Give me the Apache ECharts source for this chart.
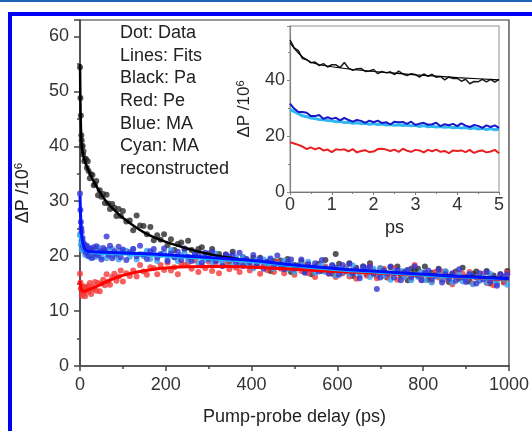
<!DOCTYPE html>
<html><head><meta charset="utf-8">
<script src="https://cdn.jsdelivr.net/npm/echarts@6/dist/echarts.min.js"></script>
<style>html,body{margin:0;padding:0;background:#fff}#c{width:532px;height:431px}</style>
</head><body><div id="c"></div>
<script>
// ---- main panel: pump-probe delay (ps) ----
const times = [0,1,2,3,4,5,6,7,8,10,12,14,16,18,20,23,26,29,32,35,38,42,46,50,54,58,62,66,70,75,80,85,90,95,100,108,116,124,132,140,148,156,164,172,180,188,196,204,212,220,228,236,244,252,260,268,276,284,292,300,308,316,324,332,340,348,356,364,372,380,388,396,404,412,420,428,436,444,452,460,468,476,484,492,500,508,516,524,532,540,548,556,564,572,580,588,596,604,612,620,628,636,644,652,660,668,676,684,692,700,708,716,724,732,740,748,756,764,772,780,788,796,804,812,820,828,836,844,852,860,868,876,884,892,900,908,916,924,932,940,948,956,964,972,980,988,996];
const paDots = [54.4,48.8,45.6,42.0,41.1,39.9,40.1,38.5,39.1,37.3,37.7,37.7,36.1,37.3,35.5,34.2,34.9,34.8,32.9,33.1,33.7,31.1,32.0,30.8,31.3,29.7,31.2,29.6,28.6,29.5,28.8,27.3,28.6,27.3,28.2,
26.3,26.5,24.7,27.4,25.6,25.5,24.0,25.3,22.9,23.8,23.0,24.0,22.0,23.1,21.1,22.2,22.5,21.2,22.8,21.1,20.2,21.3,21.6,20.0,20.5,
21.3,19.1,20.4,19.5,20.3,19.0,20.8,19.4,18.6,19.8,19.4,18.1,19.7,18.6,19.7,18.3,18.8,17.3,19.1,18.9,19.2,17.8,19.5,17.1,18.4,
17.9,19.1,17.2,18.6,16.7,18.1,18.6,17.3,19.3,17.6,16.8,20.4,18.6,17.0,17.7,18.7,16.4,17.9,17.1,18.1,16.7,18.7,17.3,16.5,17.8,
17.5,16.1,18.0,16.9,18.1,16.5,17.2,15.6,17.7,17.4,17.7,16.4,18.1,15.7,17.0,16.5,17.7,15.8,17.2,15.3,16.7,17.2,15.9,17.9,16.2,
15.4,16.8,17.2,15.6,16.3,17.3,15.0,16.5,15.7,16.7,15.3,17.3];
const peDots = [16.8,15.2,14.0,14.2,12.8,14.4,13.4,14.5,13.1,13.7,12.7,14.3,14.1,14.5,13.5,15.1,13.1,14.4,14.0,15.3,13.7,15.1,13.6,15.0,15.7,14.7,16.7,15.4,14.8,16.2,16.8,15.5,16.3,17.4,15.4,
16.9,16.4,17.4,16.3,18.4,17.2,16.6,18.0,17.8,16.7,18.4,17.5,18.8,17.4,18.0,16.7,18.6,18.4,18.8,17.7,19.2,17.1,18.3,17.8,19.0,
17.3,18.6,16.9,18.2,18.7,17.6,19.3,17.9,17.1,18.4,18.8,17.4,18.0,19.0,16.8,18.2,17.5,18.4,17.1,19.0,17.7,16.9,18.1,17.8,16.6,
18.3,17.3,18.4,16.9,17.5,16.2,18.1,17.7,18.1,16.8,18.3,16.2,17.4,16.9,18.0,16.3,17.5,15.9,17.1,17.6,16.5,18.2,16.8,16.0,17.3,
17.7,16.2,16.8,17.8,15.7,17.0,16.3,17.2,15.9,18.4,16.4,15.7,16.9,16.6,15.4,17.1,16.1,17.2,15.8,16.3,14.9,16.8,16.5,16.8,15.6,
17.1,15.0,16.2,15.7,16.8,15.1,16.4,14.7,15.9,16.4,15.2,17.0];
const maDots = [31.4,28.4,26.2,25.1,24.4,23.0,23.3,21.9,22.3,21.5,22.0,20.6,21.9,20.9,20.0,21.4,21.1,19.7,21.6,20.5,21.8,20.2,20.9,19.4,21.5,21.1,23.6,20.2,21.9,19.6,20.9,20.4,21.7,19.8,21.2,
19.3,20.7,21.3,20.0,21.9,20.3,19.5,20.9,21.3,19.7,20.4,21.4,19.1,20.5,19.8,20.8,19.3,21.4,19.9,19.1,20.5,20.1,18.8,20.6,19.5,
20.8,19.1,19.8,18.2,20.3,19.9,20.3,18.9,20.6,18.2,19.5,18.9,20.2,18.2,19.5,17.7,19.0,19.5,18.2,20.1,18.5,17.6,18.9,19.4,17.7,
18.3,19.4,17.0,18.5,17.7,18.7,17.2,19.3,17.8,16.9,18.3,17.9,16.6,18.4,17.3,18.6,16.9,17.6,16.0,18.1,17.8,18.1,16.8,14.0,16.1,
17.4,16.8,18.1,16.1,17.5,15.6,17.0,17.5,16.2,18.1,16.5,15.6,17.0,17.4,15.8,16.5,17.5,15.2,16.7,15.9,16.9,15.5,17.6,16.1,15.3,
16.7,16.4,15.0,16.9,15.8,17.1,15.4,16.1,14.6,16.7,16.3,16.7];
const maRecDots = [23.8,24.1,22.1,22.8,21.1,22.0,22.3,21.0,22.5,21.0,20.2,21.2,21.5,20.1,20.7,21.5,19.6,20.8,20.3,21.1,19.9,21.6,20.5,19.8,20.9,20.7,19.6,21.2,20.3,21.3,20.0,20.6,19.4,21.0,20.8,
21.0,19.9,21.3,19.4,20.4,20.0,21.0,19.5,20.5,19.1,20.2,20.6,19.5,21.1,19.8,19.1,20.2,20.5,19.2,19.8,20.6,18.7,19.9,19.3,20.0,
18.9,20.5,19.3,18.6,19.7,19.4,18.3,19.8,18.9,19.8,18.5,19.0,17.8,19.4,19.1,19.4,18.3,19.6,17.7,18.6,18.2,19.2,17.6,18.6,17.1,
18.2,18.6,17.5,19.0,17.7,17.0,18.1,18.4,17.1,17.6,18.4,16.5,17.7,17.1,17.8,16.7,18.3,17.2,16.5,17.6,17.3,16.2,17.7,16.8,17.8,
16.4,16.9,15.7,17.3,17.0,17.3,16.2,17.5,15.6,16.6,16.2,17.1,15.6,16.7,15.2,16.3,16.7,15.7,17.2,15.9,15.2,16.3,16.7,15.4,15.9,
16.8,14.9,16.1,15.5,16.3,15.2,16.8,15.7,15.0,16.1,15.8,14.8];

const fitTimes = [0,1,2,3,4,5,6,8,10,12,15,20,25,30,40,50,60,70,80,100,120,150,180,200,250,300,350,400,450,500,600,700,800,900,1000];
const paFit = [55,48,44,41.5,40.2,39.5,39,38.3,37.7,37.2,36.5,35.6,34.7,33.9,32.5,31.2,30.1,29.2,28.4,27.0,25.8,24.3,23.2,22.6,21.4,20.4,19.7,19.1,18.6,18.2,17.6,17.1,16.7,16.3,16.0];
const peFit = [15.5,14.8,14.3,14.0,13.8,13.7,13.65,13.6,13.6,13.65,13.75,13.9,14.05,14.2,14.55,14.9,15.3,15.65,15.95,16.5,16.9,17.35,17.7,17.85,18.05,18.1,18.1,18.0,17.8,17.6,17.2,16.9,16.5,16.1,15.7];
const maFit = [31,28.3,26.3,24.8,23.7,23.0,22.5,21.9,21.5,21.2,21.0,20.85,20.8,20.78,20.75,20.72,20.7,20.67,20.64,20.58,20.52,20.43,20.33,20.25,20.0,19.75,19.5,19.2,18.8,18.4,17.7,17.2,16.7,16.25,15.9];
const maRecFit = [24.0,23.4,22.9,22.5,22.2,22.0,21.8,21.5,21.3,21.1,20.9,20.75,20.65,20.6,20.55,20.5,20.48,20.45,20.42,20.37,20.3,20.2,20.1,20.0,19.75,19.5,19.25,18.95,18.55,18.15,17.5,17.0,16.5,16.1,15.75];

// ---- inset: first 5 ps ----
const insetTimes = [0,0.1,0.2,0.3,0.4,0.5,0.6,0.7,0.8,0.9,1.0,1.1,1.2,1.3,1.4,1.5,1.6,1.7,1.8,1.9,2.0,2.1,2.2,2.3,2.4,2.5,2.6,2.7,2.8,2.9,3.0,3.1,3.2,3.3,3.4,3.5,3.6,3.7,3.8,3.9,4.0,4.1,4.2,4.3,4.4,4.5,4.6,4.7,4.8,4.9,5.0];
const paInset = [54.5,51.7,50.7,47.8,47.4,46.3,46.6,45.3,46.0,44.8,45.6,45.6,44.6,46.4,44.4,43.6,44.2,44.3,43.2,43.4,43.9,42.4,43.2,42.7,43.1,42.1,43.3,42.3,41.7,42.4,42.1,41.2,42.3,41.5,42.2,41.1,41.4,40.2,41.2,40.7,40.8,39.7,40.4,38.8,39.6,39.5,40.4,39.5,40.4,39.4,40.4];
const maInset = [31.7,29.9,28.7,28.7,28.4,27.2,27.2,27.6,26.2,26.8,26.2,26.6,25.7,26.6,25.8,25.2,25.8,25.5,24.8,25.6,25.0,25.6,24.7,25.0,24.2,25.2,25.0,25.1,24.4,25.2,24.0,24.5,24.8,24.1,24.3,24.8,23.6,24.3,23.9,24.4,23.6,24.6,23.8,23.3,24.0,23.7,23.0,23.9,23.3,23.9,23.0];
const maRecInset = [29.6,28.8,28.1,27.3,27.0,26.5,26.3,26.0,25.9,25.6,25.5,25.2,25.3,24.9,25.0,24.6,24.8,24.5,24.6,24.3,24.5,24.2,24.4,24.0,24.2,23.9,24.1,23.8,24.0,23.7,23.9,23.5,23.8,23.4,23.6,23.3,23.5,23.2,23.4,23.0,23.2,22.9,23.1,22.7,23.0,22.6,22.8,22.4,22.7,22.3,22.5];
const peInset = [17.8,17.4,16.9,16.3,15.4,16.0,15.3,15.8,14.9,15.2,14.3,15.3,15.1,15.3,14.6,15.4,14.2,14.7,15.0,14.3,14.5,15.4,15.5,15.2,14.7,15.2,14.4,15.5,14.8,14.4,15.1,14.9,14.2,15.1,14.6,15.2,14.4,14.7,13.9,14.9,14.7,14.9,14.3,15.1,14.0,14.6,14.9,14.2,14.5,15.1,13.9];
const insetFitTimes = [0,0.1,0.2,0.3,0.5,0.7,1,1.5,2,2.5,3,3.5,4,4.5,5];
const paInsetFit = [53.5,51.5,49.8,48.4,46.5,45.6,44.9,43.9,43.2,42.6,42.0,41.5,41.0,40.6,40.2];

const legendLines = ['Dot: Data','Lines: Fits','Black: Pa','Red: Pe','Blue: MA','Cyan: MA','reconstructed'];

const zip = (xs, ys) => xs.map((x, i) => [x, ys[i]]);
const FONT = '"Liberation Sans", Arial, sans-serif';
const plain = v => String(v);

const chart = echarts.init(document.getElementById('c'), null, {renderer: 'canvas'});

const dotSeries = (data, color) => ({type: 'scatter', xAxisIndex: 0, yAxisIndex: 0, data, symbolSize: 6,
  itemStyle: {color, opacity: 0.8}, silent: true});
const fitSeries = (data, color, w) => ({type: 'line', xAxisIndex: 0, yAxisIndex: 0, data, showSymbol: false,
  smooth: true, lineStyle: {color, width: w}, silent: true});
const insetSeries = (data, color, w) => ({type: 'line', xAxisIndex: 1, yAxisIndex: 1, data, showSymbol: false,
  lineStyle: {color, width: w}, silent: true});

const nameRich = (sz) => ({a: {fontSize: sz, fontFamily: FONT, color: '#222'}, s: {fontSize: sz * 0.65, fontFamily: FONT, color: '#222', verticalAlign: 'top', padding: [0, 0, sz*0.45, 0]}});

chart.setOption({
  animation: false,
  backgroundColor: '#fff',
  grid: [
    {left: 80, top: 20, width: 432, height: 348, show: true, borderColor: '#333', borderWidth: 1.2, backgroundColor: 'transparent'},
    {left: 290, top: 26, width: 209, height: 166, show: true, borderColor: '#b5b5b5', borderWidth: 1.5, backgroundColor: '#fff'}
  ],
  xAxis: [
    {gridIndex: 0, type: 'value', min: 0, max: 1000, interval: 200,
      name: 'Pump-probe delay (ps)', nameLocation: 'middle', nameGap: 42,
      nameTextStyle: {fontSize: 18, fontFamily: FONT, color: '#222'},
      axisLine: {lineStyle: {color: '#444', width: 1.5}},
      axisTick: {show: true, inside: false, length: 5, lineStyle: {color: '#444', width: 1.5}},
      minorTick: {show: true, splitNumber: 2, length: 3, lineStyle: {color: '#444', width: 1.5}},
      axisLabel: {fontSize: 18, fontFamily: FONT, color: '#333', margin: 10, formatter: plain},
      splitLine: {show: false}},
    {gridIndex: 1, type: 'value', min: 0, max: 5, interval: 1,
      name: 'ps', nameLocation: 'middle', nameGap: 27,
      nameTextStyle: {fontSize: 18, fontFamily: FONT, color: '#222'},
      axisLine: {lineStyle: {color: '#777', width: 1.2}},
      axisTick: {show: true, inside: false, length: 3, lineStyle: {color: '#777'}},
      minorTick: {show: true, splitNumber: 2, length: 2, lineStyle: {color: '#777'}},
      axisLabel: {fontSize: 18, fontFamily: FONT, color: '#333', margin: 4, formatter: plain},
      splitLine: {show: false}}
  ],
  yAxis: [
    {gridIndex: 0, type: 'value', min: 0, max: 63, interval: 10,
      name: '{a|ΔP /10}{s|6}', nameLocation: 'middle', nameGap: 47, nameRotate: 90,
      nameTextStyle: {rich: nameRich(18)},
      axisLine: {lineStyle: {color: '#444', width: 1.5}},
      axisTick: {show: true, inside: false, length: 6, lineStyle: {color: '#444', width: 1.5}},
      minorTick: {show: true, splitNumber: 2, length: 3, lineStyle: {color: '#444', width: 1.5}},
      axisLabel: {fontSize: 18, fontFamily: FONT, color: '#333', margin: 11, showMaxLabel: false, formatter: plain},
      splitLine: {show: false}},
    {gridIndex: 1, type: 'value', min: 0, max: 59.5, interval: 20,
      name: '{a|ΔP /10}{s|6}', nameLocation: 'middle', nameGap: 36, nameRotate: 90,
      nameTextStyle: {rich: nameRich(17)},
      axisLine: {lineStyle: {color: '#888', width: 1.2}},
      axisTick: {show: true, inside: false, length: 3, lineStyle: {color: '#888'}},
      minorTick: {show: true, splitNumber: 2, length: 2, lineStyle: {color: '#888'}},
      axisLabel: {fontSize: 18, fontFamily: FONT, color: '#333', margin: 5, showMaxLabel: false, formatter: plain},
      splitLine: {show: false}}
  ],
  series: [
    dotSeries(zip(times, paDots), '#2a2a2a'),
    dotSeries(zip(times, peDots), '#f23a3a'),
    dotSeries(zip(times, maRecDots), '#3a9ff0'),
    dotSeries(zip(times, maDots), '#3535d6'),
    fitSeries(zip(fitTimes, paFit), '#000000', 2.5),
    fitSeries(zip(fitTimes, peFit), '#ff0000', 3),
    fitSeries(zip(fitTimes, maRecFit), '#18b8ff', 2.5),
    fitSeries(zip(fitTimes, maFit), '#0011ff', 3),
    insetSeries(zip(insetTimes, peInset), '#e82020', 2),
    insetSeries(zip(insetTimes, maRecInset), '#30b8f5', 3),
    insetSeries(zip(insetTimes, maInset), '#1818c8', 2),
    insetSeries(zip(insetTimes, paInset), '#1a1a1a', 1.5),
    insetSeries(zip(insetFitTimes, paInsetFit), '#000000', 1.2)
  ],
  graphic: [
    {type: 'line', shape: {x1: 0, y1: 1, x2: 532, y2: 1}, style: {stroke: '#1f63b6', lineWidth: 2}, silent: true},
    {type: 'rect', shape: {x: 10, y: 14, width: 540, height: 440}, style: {fill: 'none', stroke: '#0000f5', lineWidth: 4}, silent: true},
    ...legendLines.map((t, i) => ({type: 'text', x: 120, y: 33 + i * 22.7,
      style: {text: t, fontSize: 18, fontFamily: FONT, fill: '#222', verticalAlign: 'middle', align: 'left'}, silent: true}))
  ]
});
</script></body></html>
